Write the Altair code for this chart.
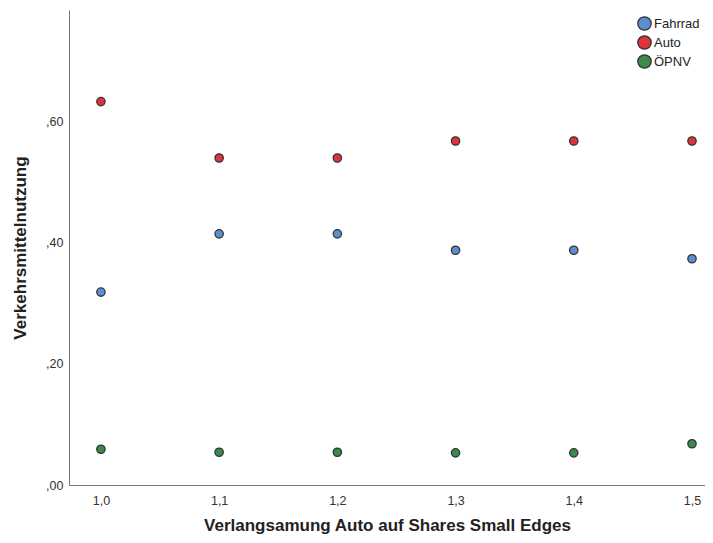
import altair as alt
import pandas as pd

x_vals = [1.0, 1.1, 1.2, 1.3, 1.4, 1.5]
fahrrad = [0.318, 0.414, 0.414, 0.387, 0.387, 0.373]
auto = [0.632, 0.539, 0.539, 0.567, 0.567, 0.567]
oepnv = [0.059, 0.054, 0.054, 0.053, 0.053, 0.068]
series = ["Fahrrad", "Auto", "ÖPNV"]
colors = ["#5b8fd2", "#e0323d", "#3a8a48"]

rows = []
for name, vals in zip(series, [fahrrad, auto, oepnv]):
    for x, v in zip(x_vals, vals):
        rows.append({"x": x, "y": v, "Gruppe": name})
df = pd.DataFrame(rows)

chart = alt.Chart(df).mark_point(
    filled=True, size=70, stroke="#333333", strokeWidth=1.3, opacity=1
).encode(
    x=alt.X("x:Q", scale=alt.Scale(domain=[0.973, 1.511], nice=False, zero=False),
            axis=alt.Axis(title="Verlangsamung Auto auf Shares Small Edges", values=x_vals,
                          labelExpr="replace(format(datum.value,'.1f'),'.',',')",
                          ticks=False, grid=False, domainColor="#777777", labelPadding=9,
                          titlePadding=11)),
    y=alt.Y("y:Q", scale=alt.Scale(domain=[0, 0.783], nice=False),
            axis=alt.Axis(title="Verkehrsmittelnutzung", values=[0, 0.2, 0.4, 0.6],
                          labelExpr="replace(format(datum.value,'.2f'),'0.',',')",
                          ticks=False, grid=False, domainColor="#777777", labelPadding=6,
                          titlePadding=16)),
    color=alt.Color("Gruppe:N", scale=alt.Scale(domain=series, range=colors),
                    legend=alt.Legend(title=None, orient="none", legendX=568, legendY=6,
                                      symbolSize=180, symbolStrokeColor="#333333",
                                      symbolStrokeWidth=1.3, labelFontSize=13,
                                      labelColor="#222222", rowPadding=0, padding=0,
                                      labelOffset=2, symbolType="circle")),
).properties(
    width=636, height=475,
    autosize=alt.AutoSizeParams(type="none"),
    padding={"left": 61, "top": 2, "right": 0, "bottom": 50},
).configure_view(stroke=None).configure_axis(
    labelFont="Liberation Sans", titleFont="Liberation Sans", labelFontSize=12.5,
    labelColor="#333333", titleFontSize=17, titleFontWeight="bold", titleColor="#222222"
).configure_legend(labelFont="Liberation Sans")

chart.save("out.html", embed_options={"renderer": "svg", "actions": False})
